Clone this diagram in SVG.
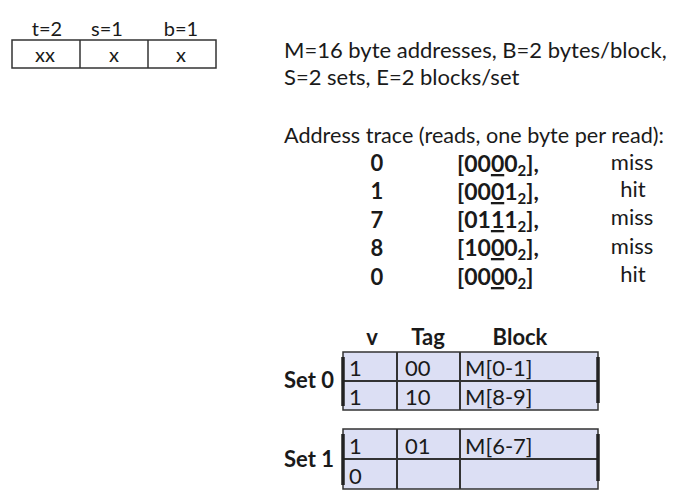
<svg xmlns="http://www.w3.org/2000/svg" width="700" height="498" viewBox="0 0 700 498">
<style>
text{font-family:Lato,"Open Sans","Liberation Sans",sans-serif;fill:#1a1a1a}
.s{font-size:20px}
.m{font-size:22px}
.k{font-size:23px}
.b{font-weight:bold}
.c{text-anchor:middle}
.box{fill:none;stroke:#333;stroke-width:1.5}
.cell{fill:#dcdff4;stroke:#333;stroke-width:1.5}
.div{stroke:#333;stroke-width:2}
.brk{stroke:#222;stroke-width:3.5}
.sub{font-size:15px}
</style>
<rect width="700" height="498" fill="#fff"/>
<g id="address-format">
<rect class="box" x="12" y="40" width="204" height="28"/>
<line class="box" x1="80" y1="40" x2="80" y2="68"/>
<line class="box" x1="148" y1="40" x2="148" y2="68"/>
<text class="s c" x="47" y="36">t=2</text>
<text class="s c" x="107" y="36">s=1</text>
<text class="s c" x="181" y="36">b=1</text>
<text class="s c" x="45" y="62">xx</text>
<text class="s c" x="114" y="62">x</text>
<text class="s c" x="181" y="62">x</text>
</g>
<g id="params">
<text class="m" x="284" y="58">M=16 byte addresses, B=2 bytes/block,</text>
<text class="m" x="284" y="85">S=2 sets, E=2 blocks/set</text>
</g>
<g id="trace">
<text class="m" x="284" y="143" textLength="380" lengthAdjust="spacingAndGlyphs">Address trace (reads, one byte per read):</text>
<text class="m b c" x="377" y="171">0</text>
<text class="m b c" x="377" y="199">1</text>
<text class="m b c" x="377" y="228">7</text>
<text class="m b c" x="377" y="256">8</text>
<text class="m b c" x="377" y="285">0</text>
<text class="k b" x="457" y="172">[00<tspan text-decoration="underline">0</tspan>0<tspan class="sub" dy="4">2</tspan><tspan dy="-4">],</tspan></text>
<text class="k b" x="457" y="200">[00<tspan text-decoration="underline">0</tspan>1<tspan class="sub" dy="4">2</tspan><tspan dy="-4">],</tspan></text>
<text class="k b" x="457" y="228">[01<tspan text-decoration="underline">1</tspan>1<tspan class="sub" dy="4">2</tspan><tspan dy="-4">],</tspan></text>
<text class="k b" x="457" y="256">[10<tspan text-decoration="underline">0</tspan>0<tspan class="sub" dy="4">2</tspan><tspan dy="-4">],</tspan></text>
<text class="k b" x="457" y="285">[00<tspan text-decoration="underline">0</tspan>0<tspan class="sub" dy="4">2</tspan><tspan dy="-4">]</tspan></text>
<text class="m c" x="632" y="170">miss</text>
<text class="m c" x="633" y="197">hit</text>
<text class="m c" x="632" y="225">miss</text>
<text class="m c" x="632" y="254">miss</text>
<text class="m c" x="633" y="282">hit</text>
</g>
<g id="header">
<text class="m b c" x="372" y="345">v</text>
<text class="m b c" x="428" y="345">Tag</text>
<text class="m b c" x="520" y="345">Block</text>
</g>
<g id="set0">
<text class="m b" x="284" y="388">Set 0</text>
<rect class="cell" x="343" y="352" width="255" height="58"/>
<line class="div" x1="343" y1="381" x2="598" y2="381"/>
<line class="div" x1="397" y1="352" x2="397" y2="410"/>
<line class="div" x1="460" y1="352" x2="460" y2="410"/>
<line class="brk" x1="343" y1="357" x2="343" y2="406"/>
<line class="brk" x1="598" y1="357" x2="598" y2="403"/>
<text class="m" x="349" y="376">1</text>
<text class="m" x="349" y="405">1</text>
<text class="m" x="405" y="376">00</text>
<text class="m" x="405" y="405">10</text>
<text class="m" x="465" y="376">M[0-1]</text>
<text class="m" x="465" y="405">M[8-9]</text>
</g>
<g id="set1">
<text class="m b" x="284" y="467">Set 1</text>
<rect class="cell" x="343" y="429" width="255" height="60"/>
<line class="div" x1="343" y1="459" x2="598" y2="459"/>
<line class="div" x1="397" y1="429" x2="397" y2="489"/>
<line class="div" x1="460" y1="429" x2="460" y2="489"/>
<line class="brk" x1="343" y1="434" x2="343" y2="485"/>
<line class="brk" x1="598" y1="434" x2="598" y2="481"/>
<text class="m" x="349" y="454">1</text>
<text class="m" x="349" y="484">0</text>
<text class="m" x="405" y="454">01</text>
<text class="m" x="465" y="454">M[6-7]</text>
</g>
</svg>
